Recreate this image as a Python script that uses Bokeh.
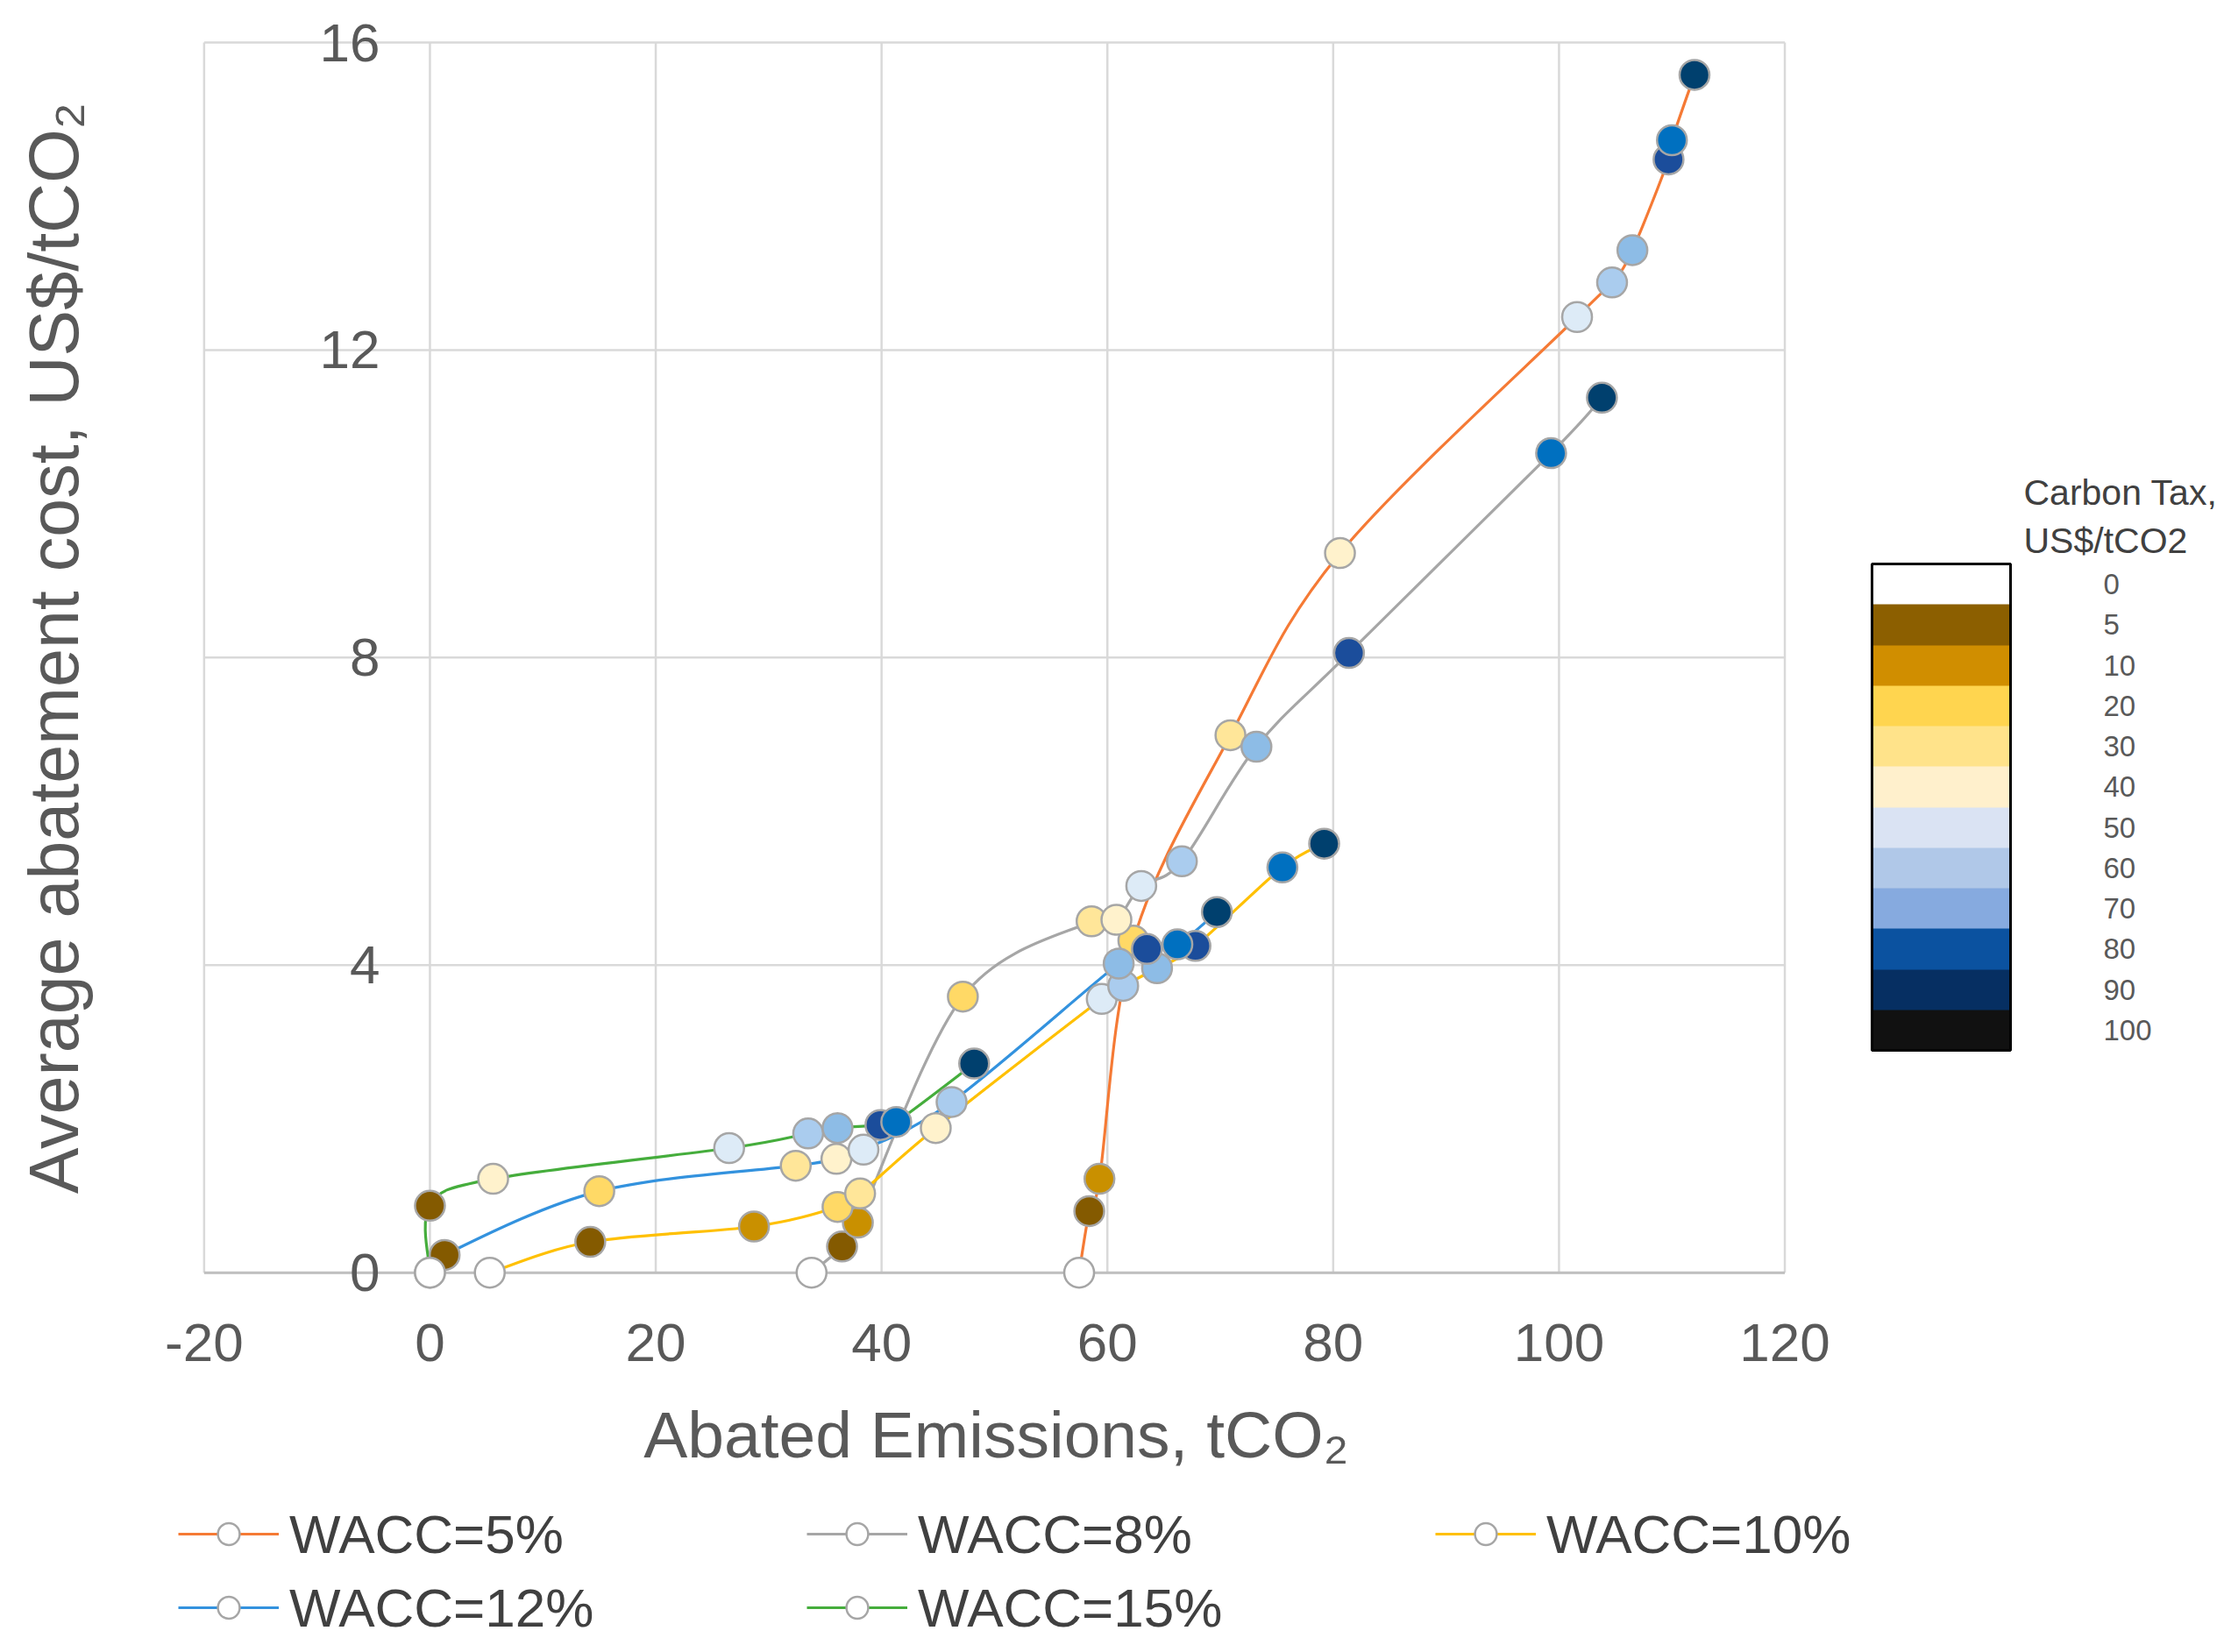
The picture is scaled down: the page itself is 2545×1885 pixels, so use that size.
import math
from bokeh.plotting import figure
from bokeh.models import (Range1d, FixedTicker, ColorBar, LinearColorMapper,
                          Legend, LegendItem, Label, ColumnDataSource)
from bokeh.embed import file_html
from bokeh.resources import INLINE

# ---------------- data ----------------
tax_levels = [0, 5, 10, 20, 30, 40, 50, 60, 70, 80, 90, 100]

wacc5_x = [57.5, 58.4, 59.3, 62.3, 70.9, 80.6, 101.6, 104.7, 106.5, 109.7, 110.0, 112.0]
wacc5_y = [0.0, 0.80, 1.22, 4.32, 6.99, 9.36, 12.43, 12.88, 13.30, 14.48, 14.73, 15.58]
wacc5_tax = [0, 5, 10, 20, 30, 40, 50, 60, 70, 80, 90, 100]

wacc8_x = [33.8, 36.5, 37.9, 47.2, 58.6, 60.8, 63.0, 66.6, 73.2, 81.4, 99.3, 103.8]
wacc8_y = [0.0, 0.34, 0.65, 3.59, 4.57, 4.59, 5.03, 5.35, 6.84, 8.06, 10.66, 11.38]
wacc8_tax = [0, 5, 10, 20, 30, 40, 50, 60, 70, 80, 90, 100]

wacc10_x = [5.3, 14.2, 28.7, 36.1, 38.1, 44.8, 59.5, 61.4, 64.4, 67.8, 75.5, 79.2]
wacc10_y = [0.0, 0.40, 0.60, 0.855, 1.03, 1.88, 3.56, 3.73, 3.96, 4.25, 5.27, 5.58]
wacc10_tax = [0, 5, 10, 20, 30, 40, 50, 60, 70, 80, 90, 100]

wacc12_x = [0.0, 1.3, 15.0, 32.4, 36.0, 38.4, 46.2, 61.0, 63.5, 66.2, 69.7]
wacc12_y = [0.0, 0.23, 1.06, 1.39, 1.48, 1.60, 2.22, 4.02, 4.21, 4.27, 4.69]
wacc12_tax = [0, 5, 20, 30, 40, 50, 60, 70, 80, 90, 100]

wacc15_x = [0.0, 0.0, 5.6, 26.5, 33.5, 36.1, 39.9, 41.3, 48.2]
wacc15_y = [0.0, 0.87, 1.22, 1.62, 1.81, 1.88, 1.92, 1.96, 2.72]
wacc15_tax = [0, 5, 40, 50, 60, 70, 80, 90, 100]

series_names = ["WACC=5%", "WACC=8%", "WACC=10%", "WACC=12%", "WACC=15%"]
series_colors = ["#F57A35", "#A6A6A6", "#FFC000", "#3392DE", "#45AD3C"]

x_ticks = [-20, 0, 20, 40, 60, 80, 100, 120]
y_ticks = [0, 4, 8, 12, 16]

# marker fill colour per carbon-tax level
marker_colors = {0: "#FFFFFF", 5: "#845A00", 10: "#C99000", 20: "#FFD966", 30: "#FFE699",
                 40: "#FFF2CC", 50: "#DDEBF7", 60: "#AACCEE", 70: "#8DBCE6",
                 80: "#1B4D9B", 90: "#0070C0", 100: "#00406E"}
# colour-scale swatches (top to bottom)
cb_colors = ["#FFFFFF", "#8C5F00", "#D08E00", "#FFD54F", "#FFE38A", "#FFF0CC",
             "#DAE3F3", "#B0C8E8", "#86AADF", "#0B52A0", "#062F62", "#111111"]

FONT = "Liberation Sans"
TXT = "#595959"

# ---------------- figure ----------------
# The frame covers the whole drawing so that titles and the legend, placed inside it, are not clipped.
p = figure(frame_width=2272, frame_height=1864,
           x_range=Range1d(-38.04, 138.36), y_range=Range1d(-4.849, 16.40),
           min_border_left=0, min_border_right=265, min_border_top=13, min_border_bottom=0,
           output_backend="svg", toolbar_location=None,
           background_fill_color="white", border_fill_color="white")
p.outline_line_color = None
p.xgrid.visible = False
p.ygrid.visible = False

# grid box limited to the axis ranges (-20..120, 0..16)
nx, ny = len(x_ticks), len(y_ticks)
p.segment(x0=x_ticks, y0=[y_ticks[0]] * nx, x1=x_ticks, y1=[y_ticks[-1]] * nx,
          line_color="#D9D9D9", line_width=2.5, level="underlay")
p.segment(x0=[x_ticks[0]] * ny, y0=y_ticks, x1=[x_ticks[-1]] * ny, y1=y_ticks,
          line_color="#D9D9D9", line_width=2.5, level="underlay")
p.segment(x0=[x_ticks[0]], y0=[y_ticks[0]], x1=[x_ticks[-1]], y1=[y_ticks[0]],
          line_color="#BFBFBF", line_width=3, level="underlay")

# category axis crosses at y = 0
xa = p.xaxis[0]
xa.fixed_location = 0
xa.ticker = FixedTicker(ticks=x_ticks)
xa.major_label_overrides = {-20: "-20", "-20": "-20"}
xa.axis_line_color = None
xa.major_tick_line_color = None
xa.minor_tick_line_color = None
xa.major_label_text_font = FONT
xa.major_label_text_font_size = "62px"
xa.major_label_text_color = TXT
xa.major_label_standoff = 53
xa.axis_label = "Abated Emissions, tCO\u2082"
xa.axis_label_text_font = FONT
xa.axis_label_text_font_size = "75px"
xa.axis_label_text_font_style = "normal"
xa.axis_label_text_color = TXT
xa.axis_label_standoff = 38

# value axis crosses at x = 0
ya = p.yaxis[0]
ya.fixed_location = 0
ya.ticker = FixedTicker(ticks=y_ticks)
ya.axis_line_color = None
ya.major_tick_line_color = None
ya.minor_tick_line_color = None
ya.major_label_text_font = FONT
ya.major_label_text_font_size = "62px"
ya.major_label_text_color = TXT
ya.major_label_standoff = 51

y_title = Label(x=61, y=1138, x_units="screen", y_units="screen", angle=math.pi / 2,
                text="Average abatement cost, US$/tCO\u2082", text_font=FONT,
                text_font_size="79px", text_color=TXT, text_align="center",
                text_baseline="middle")
p.add_layout(y_title)


def smooth(xs, ys):
    n = len(xs)
    out = dict(x0=[], y0=[], x1=[], y1=[], cx0=[], cy0=[], cx1=[], cy1=[])
    for i in range(n - 1):
        a = i - 1 if i > 0 else i
        d = i + 2 if i + 2 < n else i + 1
        out["x0"].append(xs[i]); out["y0"].append(ys[i])
        out["x1"].append(xs[i + 1]); out["y1"].append(ys[i + 1])
        out["cx0"].append(xs[i] + (xs[i + 1] - xs[a]) / 6.0)
        out["cy0"].append(ys[i] + (ys[i + 1] - ys[a]) / 6.0)
        out["cx1"].append(xs[i + 1] - (xs[d] - xs[i]) / 6.0)
        out["cy1"].append(ys[i + 1] - (ys[d] - ys[i]) / 6.0)
    return out


all_x = [wacc5_x, wacc8_x, wacc10_x, wacc12_x, wacc15_x]
all_y = [wacc5_y, wacc8_y, wacc10_y, wacc12_y, wacc15_y]
all_t = [wacc5_tax, wacc8_tax, wacc10_tax, wacc12_tax, wacc15_tax]

line_rs = []
for xs, ys, col in zip(all_x, all_y, series_colors):
    seg = ColumnDataSource(smooth(xs, ys))
    r = p.bezier(x0="x0", y0="y0", x1="x1", y1="y1", cx0="cx0", cy0="cy0",
                 cx1="cx1", cy1="cy1", source=seg, line_color=col, line_width=3.2)
    line_rs.append(r)

mark_rs = []
for xs, ys, ts in zip(all_x, all_y, all_t):
    src = ColumnDataSource(dict(x=xs, y=ys, tax=ts, fill=[marker_colors[t] for t in ts]))
    r = p.scatter("x", "y", source=src, size=34, fill_color="fill",
                  line_color="#A6A6A6", line_width=2.5)
    mark_rs.append(r)

items = [LegendItem(label=n, renderers=[lr, mr], index=0)
         for n, lr, mr in zip(series_names, line_rs, mark_rs)]
legend = Legend(items=items, orientation="horizontal", ncols=3,
                location=(203, 6), label_text_font=FONT, label_text_font_size="62px",
                label_text_color="#404040", glyph_width=115, glyph_height=62,
                label_standoff=12, spacing=10, padding=0, margin=0,
                label_width=580, label_height=74,
                border_line_color=None, background_fill_alpha=0)
p.add_layout(legend)

# carbon-tax colour scale
mapper = LinearColorMapper(palette=list(reversed(cb_colors)), low=0, high=12)
cb_ticks = [i + 0.5 for i in range(12)]
overrides = {}
for i in range(12):
    lab = str(tax_levels[11 - i])
    overrides[i + 0.5] = lab
    overrides[str(i + 0.5)] = lab
cb = ColorBar(color_mapper=mapper, ticker=FixedTicker(ticks=cb_ticks),
              major_label_overrides=overrides, width=158, height=555,
              location=(2135, 679), padding=0, orientation="vertical",
              bar_line_color="black", bar_line_width=3,
              major_tick_line_color=None, minor_tick_line_color=None,
              label_standoff=106, major_label_text_font=FONT,
              major_label_text_font_size="33px", major_label_text_color=TXT,
              background_fill_alpha=0, border_line_color=None)
p.add_layout(cb)

cb_title = Label(x=36, y=1339, x_units="screen", y_units="screen",
                 text="Carbon Tax,\nUS$/tCO2", text_font=FONT,
                 text_font_size="41px", text_color="#404040", text_baseline="top",
                 text_align="left", text_line_height=1.2)
p.add_layout(cb_title, "right")

open("out.html", "w").write(file_html(p, INLINE))
